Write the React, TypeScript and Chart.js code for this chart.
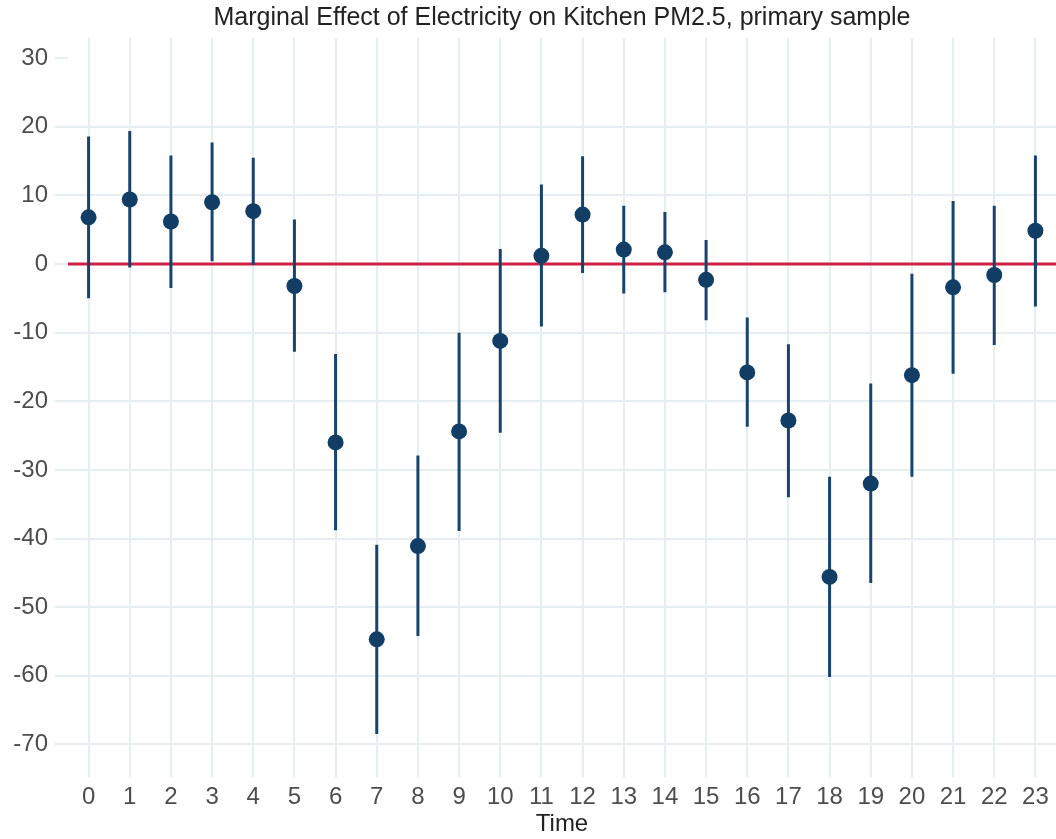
import React, { useEffect, useRef } from 'react';
import { Chart, registerables } from 'chart.js';

Chart.register(...registerables);

const hours = [0, 1, 2, 3, 4, 5, 6, 7, 8, 9, 10, 11, 12, 13, 14, 15, 16, 17, 18, 19, 20, 21, 22, 23];
const estimates = [6.8, 9.4, 6.2, 9.0, 7.7, -3.2, -26.0, -54.7, -41.1, -24.4, -11.2, 1.2, 7.2, 2.1, 1.7, -2.3, -15.8, -22.8, -45.6, -32.0, -16.2, -3.4, -1.6, 4.85];
const ciLower = [-5.0, -0.5, -3.5, 0.4, -0.1, -12.8, -38.8, -68.5, -54.2, -38.9, -24.6, -9.1, -1.3, -4.3, -4.1, -8.2, -23.7, -34.0, -60.2, -46.5, -31.0, -16.0, -11.8, -6.2];
const ciUpper = [18.6, 19.4, 15.8, 17.7, 15.5, 6.5, -13.1, -40.9, -27.9, -10.0, 2.2, 11.6, 15.7, 8.5, 7.6, 3.5, -7.8, -11.7, -31.0, -17.4, -1.4, 9.2, 8.5, 15.8];
const yTicks = [30, 20, 10, 0, -10, -20, -30, -40, -50, -60, -70];
const titleText = 'Marginal Effect of Electricity on Kitchen PM2.5, primary sample';
const xTitle = 'Time';

const FONT = "'Liberation Sans', Arial, Helvetica, sans-serif";
const GRID = '#e6eef1';

export default function App() {
  const ref = useRef<HTMLCanvasElement | null>(null);

  useEffect(() => {
    if (!ref.current) return;
    const points = hours.map((h, i) => ({ x: h, y: estimates[i] }));
    const bars: any[] = [];
    hours.forEach((h, i) => {
      bars.push({ x: h, y: ciLower[i] });
      bars.push({ x: h, y: ciUpper[i] });
      bars.push({ x: h, y: null });
    });
    const chart = new Chart(ref.current, {
      type: 'scatter',
      data: {
        datasets: [
          {
            data: points,
            pointRadius: 8,
            pointHoverRadius: 8,
            backgroundColor: '#123e66',
            borderColor: '#123e66',
            borderWidth: 0,
          } as any,
          {
            data: bars,
            showLine: true,
            spanGaps: false,
            pointRadius: 0,
            borderColor: '#17436d',
            borderWidth: 3,
            borderCapStyle: 'butt',
          } as any,
          {
            data: [{ x: -0.5, y: 0 }, { x: 23.5, y: 0 }],
            showLine: true,
            pointRadius: 0,
            borderColor: '#cf1f45',
            borderWidth: 3,
          } as any,
        ],
      },
      options: {
        animation: false,
        responsive: false,
        layout: { padding: 0, autoPadding: false },
        plugins: {
          legend: { display: false },
          tooltip: { enabled: false },
          title: {
            display: true,
            text: titleText,
            fullSize: false,
            color: '#222222',
            font: { family: FONT, size: 25, weight: 'normal' },
            padding: { top: 3, bottom: 5 },
          } as any,
        },
        scales: {
          x: {
            type: 'linear',
            min: -0.5,
            max: 23.5,
            afterBuildTicks: (axis: any) => {
              axis.ticks = hours.map((v) => ({ value: v }));
            },
            afterFit: (scale: any) => {
              scale.height = 72;
              scale.paddingLeft = 0;
              scale.paddingRight = 0;
            },
            grid: { color: GRID, lineWidth: 2, tickLength: 10, tickColor: GRID },
            border: { display: false },
            ticks: {
              color: '#4d4d4d',
              font: { family: FONT, size: 24 },
              padding: 6,
              maxRotation: 0,
              autoSkip: false,
            },
            title: {
              display: true,
              text: xTitle,
              color: '#222222',
              font: { family: FONT, size: 24 },
              padding: { top: 0, bottom: 0 },
            },
          },
          y: {
            type: 'linear',
            min: -73.3,
            max: 32.94,
            afterBuildTicks: (axis: any) => {
              axis.ticks = yTicks.map((v) => ({ value: v }));
            },
            afterFit: (scale: any) => {
              scale.width = 68;
            },
            grid: {
              color: (ctx: any) => (ctx.tick && ctx.tick.value === 30 ? 'rgba(0,0,0,0)' : GRID),
              tickColor: GRID,
              lineWidth: 2,
              tickLength: 13,
            },
            border: { display: false },
            ticks: {
              color: '#4d4d4d',
              font: { family: FONT, size: 24 },
              padding: 7,
              autoSkip: false,
            },
          },
        },
      } as any,
    });
    return () => chart.destroy();
  }, []);

  return (
    <div style={{ position: 'absolute', left: 0, top: 0, width: 1056, height: 839, background: '#ffffff' }}>
      <canvas ref={ref} width={1056} height={839} style={{ display: 'block' }} />
    </div>
  );
}
